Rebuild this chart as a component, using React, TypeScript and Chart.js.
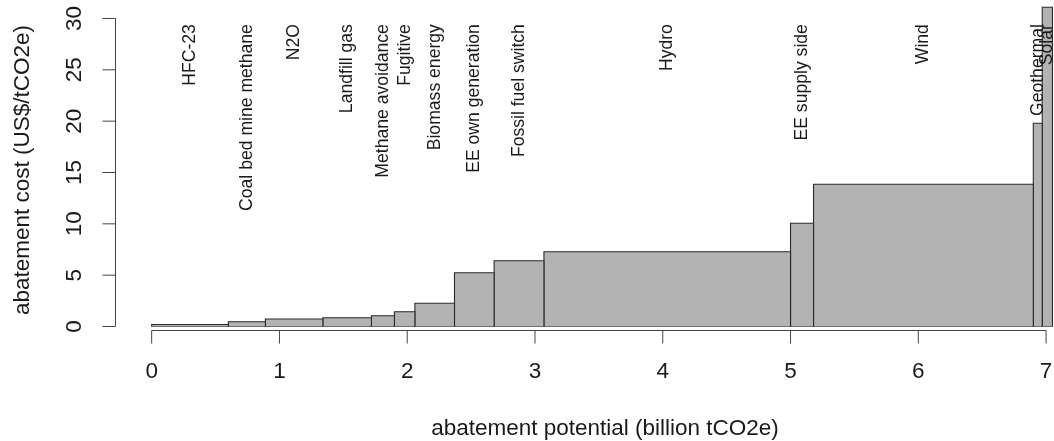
import React, { useEffect, useRef } from "react";
import { Chart, registerables } from "chart.js";

Chart.register(...registerables);

// Abatement options (in merit order)
const categories = [
  "HFC-23",
  "Coal bed mine methane",
  "N2O",
  "Landfill gas",
  "Methane avoidance",
  "Fugitive",
  "Biomass energy",
  "EE own generation",
  "Fossil fuel switch",
  "Hydro",
  "EE supply side",
  "Wind",
  "Geothermal",
  "Solar",
];
// abatement potential of each option (billion tCO2e) = bar widths
const potentials = [0.6, 0.29, 0.45, 0.38, 0.18, 0.16, 0.31, 0.31, 0.39, 1.93, 0.18, 1.72, 0.07, 0.08];
// abatement cost (US$/tCO2e) = bar heights
const costs = [0.2, 0.47, 0.73, 0.86, 1.05, 1.44, 2.26, 5.24, 6.41, 7.28, 10.05, 13.85, 19.8, 31.1];

const xTicks = [0, 1, 2, 3, 4, 5, 6, 7];
const yTicks = [0, 5, 10, 15, 20, 25, 30];
const xTitle = "abatement potential (billion tCO2e)";
const yTitle = "abatement cost (US$/tCO2e)";
const labelLevel = 29.45; // cost level where the rotated option labels end

const FONT = "'Liberation Sans', Arial, Helvetica, sans-serif";

export default function App() {
  const ref = useRef<HTMLCanvasElement>(null);

  useEffect(() => {
    const starts: number[] = [];
    let acc = 0;
    potentials.forEach((p) => {
      starts.push(acc);
      acc += p;
    });
    const total = acc;

    const barSets = categories.map((c, i) => {
      const x0 = starts[i];
      const x1 = starts[i] + potentials[i];
      const h = costs[i];
      return {
        label: c,
        data: [
          { x: x0, y: 0 },
          { x: x0, y: h },
          { x: x1, y: h },
          { x: x1, y: 0 },
        ],
        fill: "origin",
        backgroundColor: "#b3b3b3",
        borderColor: "#2a2a2a",
        borderWidth: 1.1,
        pointRadius: 0,
        pointHoverRadius: 0,
        tension: 0,
      };
    });
    // bottom edges of the bars
    const baseSet = {
      label: "base",
      data: [
        { x: 0, y: 0 },
        { x: total, y: 0 },
      ],
      fill: false,
      borderColor: "#2a2a2a",
      borderWidth: 1.1,
      pointRadius: 0,
      pointHoverRadius: 0,
    };

    const rPlugin = {
      id: "rAxes",
      afterDatasetsDraw(chart: any) {
        const ctx = chart.ctx as CanvasRenderingContext2D;
        const xs = chart.scales.x;
        const ys = chart.scales.y;
        const area = chart.chartArea;
        ctx.save();
        ctx.strokeStyle = "#444";
        ctx.lineWidth = 1;
        ctx.fillStyle = "#1a1a1a";

        // x axis
        const axY = Math.round(area.bottom) + 0.5;
        ctx.beginPath();
        ctx.moveTo(xs.getPixelForValue(xTicks[0]), axY);
        ctx.lineTo(xs.getPixelForValue(xTicks[xTicks.length - 1]), axY);
        xTicks.forEach((t) => {
          const px = xs.getPixelForValue(t);
          ctx.moveTo(px, axY);
          ctx.lineTo(px, axY + 13);
        });
        ctx.stroke();
        ctx.font = `22.5px ${FONT}`;
        ctx.textAlign = "center";
        ctx.textBaseline = "middle";
        xTicks.forEach((t) => {
          ctx.fillText(String(t), xs.getPixelForValue(t), 372);
        });

        // y axis
        const axX = Math.round(area.left) + 0.5;
        ctx.beginPath();
        ctx.moveTo(axX, ys.getPixelForValue(yTicks[0]));
        ctx.lineTo(axX, ys.getPixelForValue(yTicks[yTicks.length - 1]));
        yTicks.forEach((t) => {
          const py = ys.getPixelForValue(t);
          ctx.moveTo(axX, py);
          ctx.lineTo(axX - 13, py);
        });
        ctx.stroke();
        yTicks.forEach((t) => {
          const py = ys.getPixelForValue(t);
          ctx.save();
          ctx.translate(75, py);
          ctx.rotate(-Math.PI / 2);
          ctx.fillText(String(t), 0, 0);
          ctx.restore();
        });

        // titles
        ctx.fillText(xTitle, 605, 429);
        ctx.save();
        ctx.translate(23, 170);
        ctx.rotate(-Math.PI / 2);
        ctx.fillText(yTitle, 0, 0);
        ctx.restore();

        // option labels
        ctx.font = `17.6px ${FONT}`;
        ctx.textAlign = "right";
        const ly = ys.getPixelForValue(labelLevel);
        categories.forEach((c, i) => {
          const mid = starts[i] + potentials[i] / 2;
          ctx.save();
          ctx.translate(xs.getPixelForValue(mid), ly);
          ctx.rotate(-Math.PI / 2);
          ctx.fillText(c, 0, 0);
          ctx.restore();
        });
        ctx.restore();
      },
    };

    const chart = new Chart(ref.current as HTMLCanvasElement, {
      type: "line",
      data: { datasets: [...barSets, baseSet] as any },
      options: {
        animation: false,
        responsive: false,
        events: [],
        layout: { padding: { left: 115, right: 0, top: 0, bottom: 111 } },
        scales: {
          x: { type: "linear", display: false, min: -0.287, max: 7.062 },
          y: { type: "linear", display: false, min: -0.34, max: 31.8 },
        },
        plugins: { legend: { display: false }, tooltip: { enabled: false } },
      },
      plugins: [rPlugin],
    });
    return () => chart.destroy();
  }, []);

  return (
    <div style={{ position: "fixed", left: 0, top: 0, width: 1054, height: 441, background: "#fff" }}>
      <canvas ref={ref} width={1054} height={441} style={{ display: "block", width: 1054, height: 441 }} />
    </div>
  );
}
